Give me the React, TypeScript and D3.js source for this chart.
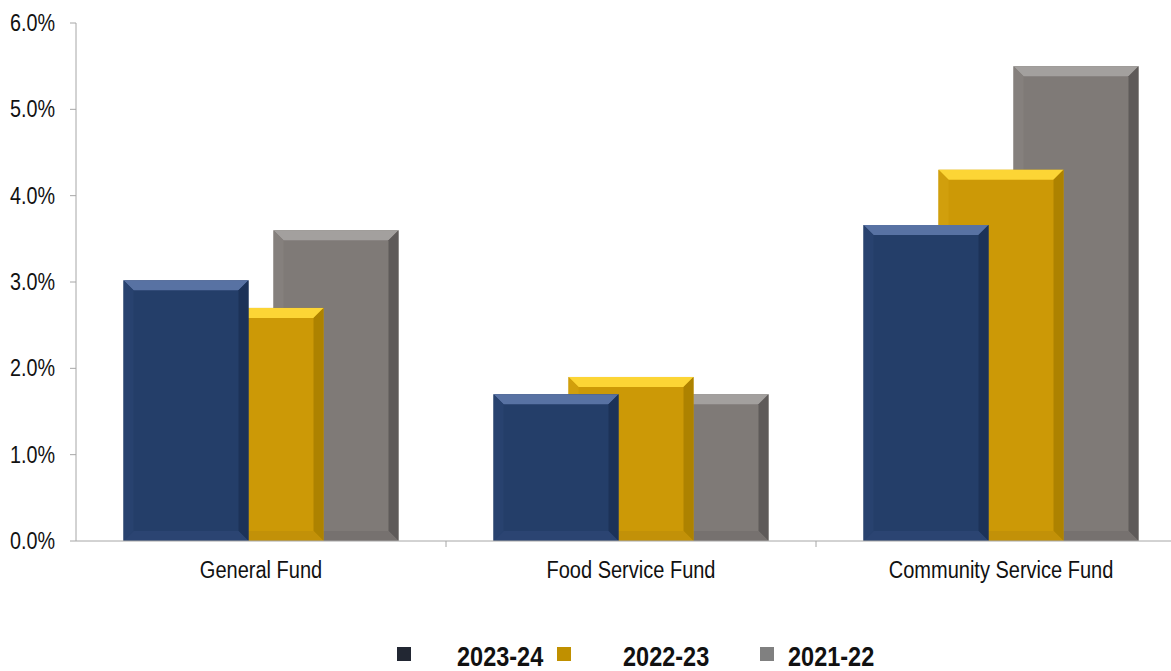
import React from "react";
import * as d3 from "d3";

const categories = ["General Fund", "Food Service Fund", "Community Service Fund"];
const seriesNames = ["2023-24", "2022-23", "2021-22"];
const values2324 = [3.02, 1.7, 3.66];
const values2223 = [2.7, 1.9, 4.3];
const values2122 = [3.6, 1.7, 5.5];
const yTicks = [0, 1, 2, 3, 4, 5, 6];

const seriesValues = [values2324, values2223, values2122];

const palettes = [
  { face: "#243e69", top: "#5872a3", right: "#1c3258", bottom: "#2b4472", left: "#28426f", legend: "#222733" },
  { face: "#cc9906", top: "#fcd535", right: "#ad8200", bottom: "#c29108", left: "#d19f0c", legend: "#c09000" },
  { face: "#7f7a77", top: "#a3a09e", right: "#5e5a59", bottom: "#76716f", left: "#85807d", legend: "#808080" },
];

const W = 1171;
const H = 671;
const FONT = "'Liberation Sans', Arial, sans-serif";

function NText(props: {
  x: number;
  y: number;
  sx: number;
  size: number;
  anchor?: string;
  bold?: boolean;
  children: React.ReactNode;
}) {
  return (
    <text
      transform={`translate(${props.x},${props.y}) scale(${props.sx},1)`}
      textAnchor={props.anchor || "start"}
      fontFamily={FONT}
      fontSize={props.size}
      fontWeight={props.bold ? "bold" : "normal"}
      fill="#111"
    >
      {props.children}
    </text>
  );
}

export default function App() {
  const x = d3
    .scaleBand<string>()
    .domain(categories)
    .range([76, 1186])
    .paddingInner(95 / 370)
    .paddingOuter(47.5 / 370);
  const y = d3.scaleLinear().domain([0, 6]).range([541, 23]);
  const bw = x.bandwidth();
  const barW = bw / 2.2;
  const step = (bw - barW) / (seriesNames.length - 1);
  const b = 10;

  const bars: React.ReactNode[] = [];
  for (let s = seriesNames.length - 1; s >= 0; s--) {
    const p = palettes[s];
    seriesValues[s].forEach((v, ci) => {
      const x0 = (x(categories[ci]) as number) + s * step;
      const x1 = x0 + barW;
      const y0 = y(v);
      const y1 = y(0);
      const pts = (arr: number[][]) => arr.map((q) => q.join(",")).join(" ");
      bars.push(
        <g key={`b${s}-${ci}`}>
          <rect x={x0} y={y0} width={barW} height={y1 - y0} fill={p.face} />
          <polygon points={pts([[x0, y0], [x1, y0], [x1 - b, y0 + b], [x0 + b, y0 + b]])} fill={p.top} />
          <polygon points={pts([[x1, y0], [x1, y1], [x1 - b, y1 - b], [x1 - b, y0 + b]])} fill={p.right} />
          <polygon points={pts([[x0, y1], [x1, y1], [x1 - b, y1 - b], [x0 + b, y1 - b]])} fill={p.bottom} />
          <polygon points={pts([[x0, y0], [x0 + b, y0 + b], [x0 + b, y1 - b], [x0, y1]])} fill={p.left} />
        </g>
      );
    });
  }

  const legendItems = [
    { sq: 397, tx: 457 },
    { sq: 557, tx: 623 },
    { sq: 760, tx: 788 },
  ];

  return (
    <svg width={W} height={H} style={{ position: "absolute", left: 0, top: 0, background: "#fff" }}>
      {bars}
      {/* y axis */}
      <line x1={76} y1={y(6)} x2={76} y2={y(0)} stroke="#a6a6a6" strokeWidth={1} />
      {yTicks.map((t) => (
        <g key={`yt${t}`}>
          <line x1={70} x2={76} y1={y(t)} y2={y(t)} stroke="#a6a6a6" />
          <NText x={55} y={y(t) + 8} sx={0.86} size={23} anchor="end">
            {d3.format(".1f")(t) + "%"}
          </NText>
        </g>
      ))}
      {/* x axis */}
      <line x1={76} x2={W} y1={y(0)} y2={y(0)} stroke="#a6a6a6" />
      {categories.slice(1).map((c) => (
        <line
          key={`xt${c}`}
          x1={(x(c) as number) - (x.step() - bw) / 2}
          x2={(x(c) as number) - (x.step() - bw) / 2}
          y1={y(0)}
          y2={y(0) + 6}
          stroke="#a6a6a6"
        />
      ))}
      {categories.map((c) => (
        <NText key={`xl${c}`} x={(x(c) as number) + bw / 2} y={578} sx={0.87} size={23} anchor="middle">
          {c}
        </NText>
      ))}
      {/* legend */}
      {seriesNames.map((n, i) => (
        <g key={`lg${n}`}>
          <rect x={legendItems[i].sq} y={647} width={14} height={14} fill={palettes[i].legend} />
          <NText x={legendItems[i].tx} y={666} sx={0.84} size={28} bold>
            {n}
          </NText>
        </g>
      ))}
    </svg>
  );
}
